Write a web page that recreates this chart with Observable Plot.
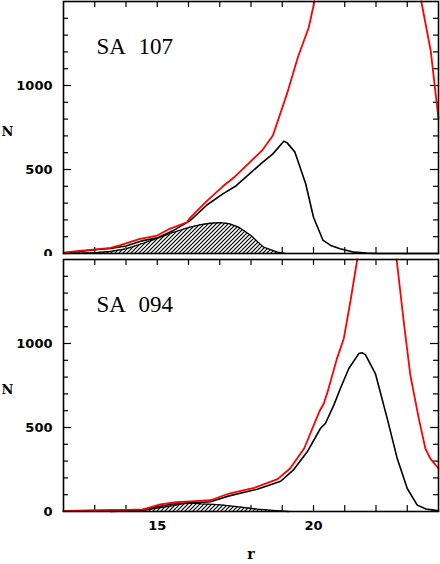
<!DOCTYPE html>
<html><head><meta charset="utf-8">
<script src="https://cdn.jsdelivr.net/npm/d3@7"></script>
<script src="https://cdn.jsdelivr.net/npm/@observablehq/plot@0.6"></script>
<style>body{margin:0;background:#fff} svg{display:block}</style>
</head><body><div id="chart"></div>
<script>
// ---- axis values ----
const xDomain = [12, 24];
const yDomain = [0, 1500];
const xTickValues = [13, 14, 15, 16, 17, 18, 19, 20, 21, 22, 23];
const xLabelValues = [15, 20];
const yMinorTicks = [100, 200, 300, 400, 600, 700, 800, 900, 1100, 1200, 1300, 1400];
const yMajorTicks = [500, 1000];
const yLabelValues = [0, 500, 1000];
const panelNames = ["SA 107", "SA 094"];
const xLabel = "r";
const yLabel = "N";

// ---- SA 107 ---- (NaN = curve leaves the plot above N = 1500)
const sa107RedR = [12, 12.5, 13.2, 13.5, 13.8, 14.45, 15, 15.4, 15.95, 16.05, 16.6, 17.1, 17.5, 17.9, 18.35, 18.7, 19.15, 19.5, 19.85, 20.03, 21.5, 23.45, 23.75, 24];
const sa107RedN = [5, 16, 28, 34, 48, 87, 107, 147, 186, 212, 315, 400, 460, 532, 612, 702, 950, 1168, 1347, 1500, NaN, 1500, 1208, 803];
const sa107BlackR = [12, 12.5, 13, 13.5, 14, 14.5, 15, 15.5, 16.05, 16.6, 17.1, 17.5, 17.95, 18.35, 18.7, 19.05, 19.15, 19.4, 19.75, 20.0, 20.3, 20.55, 20.85, 21.3, 21.7, 22, 24];
const sa107BlackN = [3, 12, 22, 30, 45, 75, 93, 135, 196, 290, 355, 400, 474, 540, 593, 668, 660, 605, 415, 216, 80, 48, 28, 8, 2, 0, 0];
const sa107HatchR = [12, 12.5, 13, 13.5, 14, 14.5, 15, 15.5, 16.05, 16.4, 16.7, 17.0, 17.3, 17.6, 18.0, 18.4, 18.85, 19.1];
const sa107HatchN = [0, 2, 5, 12, 28, 58, 90, 125, 157, 172, 180, 184, 178, 157, 107, 38, 8, 0];

// ---- SA 094 ----
const sa094RedR = [12, 13, 14, 14.55, 15.1, 15.6, 16.05, 16.7, 17.3, 18.1, 18.85, 19.25, 19.7, 20.2, 20.33, 20.45, 20.75, 20.97, 21.18, 21.4, 22.0, 22.66, 22.9, 23.1, 23.37, 23.58, 23.74, 24];
const sa094RedN = [3, 6, 10, 12, 42, 55, 60, 67, 107, 141, 193, 256, 375, 600, 643, 712, 910, 1030, 1250, 1500, NaN, 1500, 1110, 810, 553, 375, 315, 256];
const sa094BlackR = [12, 13, 14, 14.5, 15, 15.5, 16.05, 16.7, 17.3, 18.2, 18.95, 19.35, 19.8, 20.22, 20.38, 20.65, 20.86, 21.13, 21.45, 21.55, 21.66, 21.98, 22.36, 22.68, 23.0, 23.32, 23.6, 23.85, 24];
const sa094BlackN = [2, 5, 8, 10, 28, 45, 50, 58, 93, 133, 180, 246, 355, 494, 524, 633, 732, 851, 940, 945, 934, 821, 553, 315, 137, 38, 15, 8, 4];
const sa094HatchR = [13.5, 14, 14.5, 15, 15.5, 15.9, 16.1, 16.4, 16.8, 17.1, 17.6, 18.2, 18.8, 19.2];
const sa094HatchN = [0, 2, 6, 20, 35, 50, 52, 45, 42, 38, 28, 14, 5, 0];

const zip = (R, N) => R.map((r, i) => ({r, N: N[i]}));

const W = 440, ML = 63, MR = 2;
const FRAME_W = W - ML - MR;   // 375
const FRAME_H = 252;
const tickFont = {fontFamily: "DejaVu Sans", fontWeight: "bold", fontSize: 13, tickFormat: d => String(d)};

function panel({name, red, black, hatch, hatchId, bottom}) {
  const tk = {stroke: "black", strokeWidth: 1.2};
  const marks = [
    // inward ticks on all four sides (drawn first)
    Plot.tickX(xTickValues, {x: d => d, insetTop: FRAME_H - 6, ...tk}),
    Plot.tickX(xTickValues, {x: d => d, insetBottom: FRAME_H - 6, ...tk}),
    Plot.tickY(yMinorTicks, {y: d => d, insetRight: FRAME_W - 5, ...tk}),
    Plot.tickY(yMajorTicks, {y: d => d, insetRight: FRAME_W - 8, ...tk}),
    Plot.tickY(yMinorTicks, {y: d => d, insetLeft: FRAME_W - 5, ...tk}),
    Plot.tickY(yMajorTicks, {y: d => d, insetLeft: FRAME_W - 8, ...tk}),
    Plot.areaY(hatch, {x: "r", y: "N", fill: `url(#${hatchId})`}),
    Plot.line(hatch, {x: "r", y: "N", stroke: "black", strokeWidth: 1.3}),
    Plot.line(black, {x: "r", y: "N", stroke: "black", strokeWidth: 1.6}),
    Plot.line(red, {x: "r", y: "N", stroke: "#ff0000", strokeWidth: 1.8}),
    Plot.axisY({anchor: "left", ticks: yLabelValues, tickSize: 0, tickPadding: 11, label: null, ...tickFont}),
    Plot.frame({stroke: "black", strokeWidth: 1.6}),
    Plot.text([name], {text: d => d, frameAnchor: "top-left", textAnchor: "start", lineAnchor: "top",
      dx: 33, dy: 36.5, fontFamily: "Liberation Serif", fontSize: 23}),
    Plot.text([yLabel], {text: d => d, frameAnchor: "left", textAnchor: "middle", dx: -56, dy: 4,
      fontFamily: "DejaVu Serif", fontWeight: "bold", fontSize: 13})
  ];
  if (bottom) {
    marks.push(Plot.axisX({anchor: "bottom", ticks: xLabelValues, tickSize: 0, tickPadding: 9, label: null, ...tickFont}));
    marks.push(Plot.text([xLabel], {text: d => d, frameAnchor: "bottom", textAnchor: "middle", dy: 47,
      fontFamily: "DejaVu Serif", fontWeight: "bold", fontSize: 14}));
  } else {
    marks.push(Plot.axisX({anchor: "bottom", ticks: [], tickSize: 0, label: null}));
  }
  const svg = Plot.plot({
    width: W,
    height: bottom ? 308 : 256,
    marginLeft: ML,
    marginRight: MR,
    marginTop: bottom ? 3 : 1,
    marginBottom: bottom ? 53 : 3,
    x: {domain: xDomain},
    y: {domain: yDomain},
    style: {background: "white", color: "black"},
    marks
  });
  const ns = "http://www.w3.org/2000/svg";
  const defs = document.createElementNS(ns, "defs");
  const pat = document.createElementNS(ns, "pattern");
  pat.setAttribute("id", hatchId);
  pat.setAttribute("patternUnits", "userSpaceOnUse");
  pat.setAttribute("width", "4");
  pat.setAttribute("height", "4");
  const bg = document.createElementNS(ns, "rect");
  bg.setAttribute("width", "4"); bg.setAttribute("height", "4"); bg.setAttribute("fill", "white");
  const hp = document.createElementNS(ns, "path");
  hp.setAttribute("d", "M-1,1 l2,-2 M0,4 l4,-4 M3,5 l2,-2");
  hp.setAttribute("stroke", "black"); hp.setAttribute("stroke-width", "1.2");
  pat.appendChild(bg); pat.appendChild(hp); defs.appendChild(pat);
  svg.insertBefore(defs, svg.firstChild);
  svg.querySelectorAll("text").forEach(t => { if (t.textContent === name) t.setAttribute("word-spacing", "8"); });
  return svg;
}

const chart = document.getElementById("chart");
chart.appendChild(panel({name: panelNames[0], red: zip(sa107RedR, sa107RedN), black: zip(sa107BlackR, sa107BlackN),
  hatch: zip(sa107HatchR, sa107HatchN), hatchId: "hatchTop", bottom: false}));
chart.appendChild(panel({name: panelNames[1], red: zip(sa094RedR, sa094RedN), black: zip(sa094BlackR, sa094BlackN),
  hatch: zip(sa094HatchR, sa094HatchN), hatchId: "hatchBottom", bottom: true}));
</script>
</body></html>
